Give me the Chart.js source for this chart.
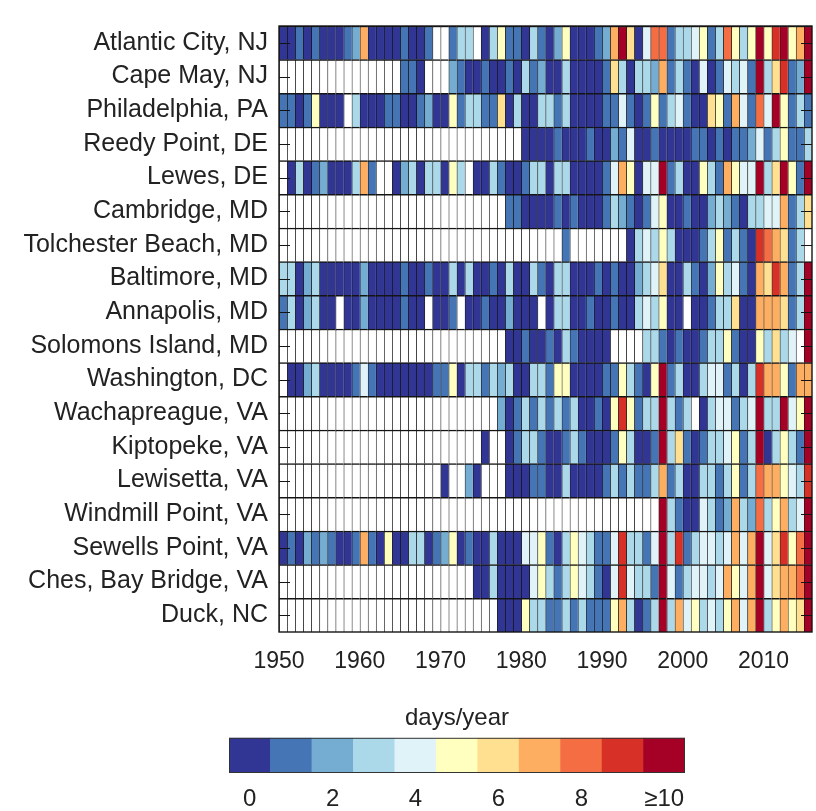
<!DOCTYPE html>
<html>
<head>
<meta charset="utf-8">
<script src="https://cdn.jsdelivr.net/npm/chart.js@4.4.1/dist/chart.umd.min.js"></script>
<style>
  html, body { margin: 0; padding: 0; background: #fff; }
  canvas { display: block; }
</style>
</head>
<body>
<canvas id="heat" width="816" height="690"></canvas>
<canvas id="bar" width="816" height="121"></canvas>
<script>
const _ = null; // no data for that year

const stations = [
    "Atlantic City, NJ", "Cape May, NJ", "Philadelphia, PA", "Reedy Point, DE",
    "Lewes, DE", "Cambridge, MD", "Tolchester Beach, MD", "Baltimore, MD",
    "Annapolis, MD", "Solomons Island, MD", "Washington, DC", "Wachapreague, VA",
    "Kiptopeke, VA", "Lewisetta, VA", "Windmill Point, VA", "Sewells Point, VA",
    "Ches, Bay Bridge, VA", "Duck, NC"
];
const years = [
    1950, 1951, 1952, 1953, 1954, 1955, 1956, 1957, 1958, 1959,
    1960, 1961, 1962, 1963, 1964, 1965, 1966, 1967, 1968, 1969,
    1970, 1971, 1972, 1973, 1974, 1975, 1976, 1977, 1978, 1979,
    1980, 1981, 1982, 1983, 1984, 1985, 1986, 1987, 1988, 1989,
    1990, 1991, 1992, 1993, 1994, 1995, 1996, 1997, 1998, 1999,
    2000, 2001, 2002, 2003, 2004, 2005, 2006, 2007, 2008, 2009,
    2010, 2011, 2012, 2013, 2014, 2015
];
const tickYears = [1950, 1960, 1970, 1980, 1990, 2000, 2010];
const levelLabels = ["0", "1", "2", "3", "4", "5", "6", "7", "8", "9", "\u226510"];
const levelColors = [
    "#313695", "#4575b4", "#74add1", "#abd9e9", "#e0f3f8", "#ffffbf",
    "#fee090", "#fdae61", "#f46d43", "#d73027", "#a50026"
];

// days/year per station, one value per year 1950-2015
const atlanticCity = [0,0,1,0,1,0,0,0,1,2, 7,0,0,0,0,1,0,0,1,_, _,1,3,3,_,0,3,5,1,1, 0,3,1,0,2,5,0,0,0,1, 2,7,10,6,0,4,8,8,1,3, 3,4,5,1,3,8,5,3,5,10, 5,9,10,5,7,10];
const capeMay      = [_,_,_,_,_,_,_,_,_,_, _,_,_,_,_,1,1,0,_,_, _,2,1,0,0,1,0,0,1,0, 3,1,2,0,0,3,0,0,0,0, 1,6,3,0,3,3,2,7,1,3, 1,0,4,0,1,4,3,4,1,10, 3,6,9,1,2,10];
const philadelphia = [1,1,0,1,5,0,0,0,_,3, 0,0,0,1,1,0,0,1,2,0, 0,5,1,3,3,1,1,6,0,3, 0,0,3,3,1,3,0,0,0,0, 1,1,4,1,0,1,5,1,3,4, 1,0,0,6,5,1,7,4,1,8, 4,10,5,1,3,1];
const reedyPoint   = [_,_,_,_,_,_,_,_,_,_, _,_,_,_,_,_,_,_,_,_, _,_,_,_,_,_,_,_,_,_, 0,0,0,0,1,0,0,0,1,0, 0,2,1,4,0,0,1,0,0,0, 0,1,1,0,1,0,1,1,2,4, 1,3,5,1,1,3];
const lewes        = [_,0,3,0,1,2,0,0,0,3, 7,1,_,_,0,2,3,0,3,3, 0,5,3,_,0,0,3,1,0,0, 1,3,3,0,3,3,0,0,0,0, 1,4,7,5,0,4,4,10,1,3, 0,0,5,3,1,7,5,4,4,10, 3,6,10,5,1,10];
const cambridge    = [_,_,_,_,_,_,_,_,_,_, _,_,_,_,_,_,_,_,_,_, _,_,_,_,_,_,_,_,1,1, 0,0,0,0,1,0,1,0,0,0, 1,3,2,1,0,1,4,5,0,0, 1,0,0,2,3,2,1,0,3,3, 4,4,7,1,3,6];
const tolchester   = [_,_,_,_,_,_,_,_,_,_, _,_,_,_,_,_,_,_,_,_, _,_,_,_,_,_,_,_,_,_, _,_,_,_,_,1,_,_,_,_, _,_,_,0,3,4,3,5,3,0, 0,0,1,3,5,1,3,1,0,9, 8,7,6,1,3,_];
const baltimore    = [3,3,0,2,3,0,0,0,0,0, 2,0,0,0,0,1,0,0,1,0, 0,3,0,3,0,0,1,0,3,0, 0,3,1,0,3,3,0,0,0,1, 0,1,0,0,2,3,4,6,0,0, 3,1,0,2,5,3,4,1,0,7, 6,9,7,1,3,10];
const annapolis    = [1,3,0,2,3,0,0,_,0,0, 2,0,0,0,0,1,0,0,_,0, 0,1,_,0,0,1,0,0,2,0, 0,0,_,0,3,3,0,0,1,0, 0,1,0,0,3,4,3,5,0,0, _,0,0,1,3,3,6,0,0,7, 7,7,6,1,3,10];
const solomons     = [_,_,_,_,_,_,_,_,_,_, _,_,_,_,_,_,_,_,_,_, _,_,_,_,_,_,_,_,0,0, 1,0,0,1,0,3,1,0,0,0, 0,_,_,_,_,3,3,1,0,1, 0,0,1,3,3,5,1,0,0,5, 3,6,3,4,_,10];
const washington   = [_,0,0,2,3,0,0,0,0,1, 4,1,0,0,0,0,0,0,0,1, 1,5,0,3,3,1,3,2,3,0, 0,3,3,1,5,5,0,0,0,0, 1,1,5,3,1,0,5,10,1,3, 0,0,3,4,4,1,3,0,3,9, 7,7,5,1,7,7];
const wachapreague = [_,_,_,_,_,_,_,_,_,_, _,_,_,_,_,_,_,_,_,_, _,_,_,_,_,_,_,2,0,1, 3,1,3,1,3,1,3,0,0,1, 0,5,9,5,1,3,3,10,3,1, 3,_,0,3,4,4,1,3,4,10, 3,3,10,4,5,10];
const kiptopeke    = [_,_,_,_,_,_,_,_,_,_, _,_,_,_,_,_,_,_,_,_, _,_,_,_,_,0,_,_,0,1, 3,3,1,0,0,1,3,1,0,0, 0,1,5,3,0,0,1,10,3,6, 1,0,1,3,3,4,5,1,3,10, 0,3,5,3,1,10];
const lewisetta    = [_,_,_,_,_,_,_,_,_,_, _,_,_,_,_,_,_,_,_,_, 0,_,_,2,0,_,_,_,0,0, 0,1,1,0,0,3,0,0,0,0, 1,3,1,3,1,1,3,7,1,3, 0,0,3,3,1,3,5,1,3,8, 7,7,5,4,3,9];
const windmill     = [_,_,_,_,_,_,_,_,_,_, _,_,_,_,_,_,_,_,_,_, _,_,_,_,_,_,_,_,_,_, _,_,_,_,_,_,_,_,_,_, _,_,_,_,_,_,_,10,3,1, 0,0,4,3,1,2,7,3,2,8, 3,5,7,3,4,10];
const sewells      = [0,1,0,2,1,2,1,0,0,1, 7,1,0,5,0,0,3,3,0,1, 2,5,0,1,0,0,3,0,0,0, 4,4,5,1,0,3,5,4,3,1, 1,4,9,3,3,1,4,10,3,9, 1,3,4,4,3,4,7,4,7,10, 4,6,9,5,8,10];
const chesBay      = [_,_,_,_,_,_,_,_,_,_, _,_,_,_,_,_,_,_,_,_, _,_,_,_,0,0,3,0,0,0, 0,4,5,3,1,3,5,4,3,1, 0,4,9,4,3,3,1,10,4,1, 3,4,4,3,4,7,5,4,7,10, 4,6,7,7,8,10];
const duck         = [_,_,_,_,_,_,_,_,_,_, _,_,_,_,_,_,_,_,_,_, _,_,_,_,_,_,_,0,0,0, 5,3,3,1,1,3,1,3,1,1, 1,5,7,3,0,1,3,10,3,7, 4,5,3,4,3,5,7,4,7,10, 3,5,7,5,6,10];

const rows = [
    atlanticCity, capeMay, philadelphia, reedyPoint, lewes, cambridge,
    tolchester, baltimore, annapolis, solomons, washington, wachapreague,
    kiptopeke, lewisetta, windmill, sewells, chesBay, duck
];

const FONT = "'Liberation Sans', Arial, sans-serif";
const TEXT = "#222";

function cellColor(v) {
    if (v === null) return "#ffffff";
    return levelColors[Math.min(v, 10)];
}

// one floating-bar dataset per year, one bar per station
const heatSets = years.map(function (yr, j) {
    return {
        data: rows.map(function () { return [yr, yr + 1]; }),
        backgroundColor: rows.map(function (r) { return cellColor(r[j]); }),
        borderColor: "#141414",
        borderWidth: { top: 1.5, left: 1, right: 0, bottom: 0 },
        borderSkipped: false,
        grouped: false,
        barPercentage: 1,
        categoryPercentage: 1
    };
});

//frame + inward axis ticks
const heatFrame = {
    id: "heatFrame",
    afterDatasetsDraw(chart) {
        const ctx = chart.ctx;
        const a = chart.chartArea;
        const y = chart.scales.y;
        ctx.save();
        ctx.strokeStyle = "#141414";
        ctx.lineWidth = 1.4;
        ctx.strokeRect(a.left, a.top, a.right - a.left, a.bottom - a.top);
        ctx.lineWidth = 1;
        ctx.beginPath();
        stations.forEach(function (s, i) {
            const py = Math.round(y.getPixelForValue(i)) + 0.5;
            ctx.moveTo(a.left, py);
            ctx.lineTo(a.left + 11, py);
            ctx.moveTo(a.right, py);
            ctx.lineTo(a.right - 11, py);
        });
        ctx.stroke();
        ctx.restore();
    }
};

new Chart(document.getElementById("heat"), {
    type: "bar",
    data: { labels: stations, datasets: heatSets },
    options: {
        indexAxis: "y",
        responsive: false,
        animation: false,
        devicePixelRatio: 1,
        layout: { padding: { left: 0, right: 4, top: 6, bottom: 0 } },
        plugins: { legend: { display: false }, tooltip: { enabled: false } },
        scales: {
            x: {
                type: "linear",
                min: 1950,
                max: 2016,
                grid: { display: false, drawTicks: false },
                border: { display: false },
                afterBuildTicks: function (s) {
                    s.ticks = tickYears.map(function (v) { return { value: v }; });
                },
                afterFit: function (s) { s.height = 58; },
                ticks: {
                    callback: function (v) { return String(v); },
                    font: { family: FONT, size: 23 },
                    color: TEXT,
                    padding: 16,
                    maxRotation: 0,
                    autoSkip: false
                }
            },
            y: {
                type: "category",
                grid: { display: false, drawTicks: false },
                border: { display: false },
                afterFit: function (s) { s.width = 279; },
                ticks: {
                    font: { family: FONT, size: 25 },
                    color: TEXT,
                    padding: 11,
                    autoSkip: false
                }
            }
        }
    },
    plugins: [heatFrame]
});

//colour bar
const barFrame = {
    id: "barFrame",
    afterDatasetsDraw(chart) {
        const ctx = chart.ctx;
        const a = chart.chartArea;
        ctx.save();
        ctx.strokeStyle = "#333";
        ctx.lineWidth = 1;
        ctx.strokeRect(a.left + 0.5, a.top + 0.5, a.right - a.left - 1, a.bottom - a.top - 1);
        ctx.restore();
    }
};

new Chart(document.getElementById("bar"), {
    type: "bar",
    data: {
        labels: levelLabels,
        datasets: [{
            data: levelLabels.map(function () { return 1; }),
            backgroundColor: levelColors,
            borderWidth: 0,
            barPercentage: 1,
            categoryPercentage: 1
        }]
    },
    options: {
        responsive: false,
        animation: false,
        devicePixelRatio: 1,
        layout: { padding: { left: 229, right: 131, top: 14, bottom: 0 } },
        plugins: {
            legend: { display: false },
            tooltip: { enabled: false },
            title: {
                display: true,
                text: "days/year",
                color: TEXT,
                font: { family: FONT, size: 24, weight: "normal" },
                padding: { top: 0, bottom: 5 }
            }
        },
        scales: {
            x: {
                grid: { display: false, drawTicks: false },
                border: { display: false },
                afterFit: function (s) { s.height = 38; },
                ticks: {
                    callback: function (v, i) { return i % 2 === 0 ? levelLabels[i] : ""; },
                    font: { family: FONT, size: 24 },
                    color: TEXT,
                    padding: 12,
                    maxRotation: 0,
                    autoSkip: false
                }
            },
            y: { display: false, min: 0, max: 1 }
        }
    },
    plugins: [barFrame]
});
</script>
</body>
</html>
